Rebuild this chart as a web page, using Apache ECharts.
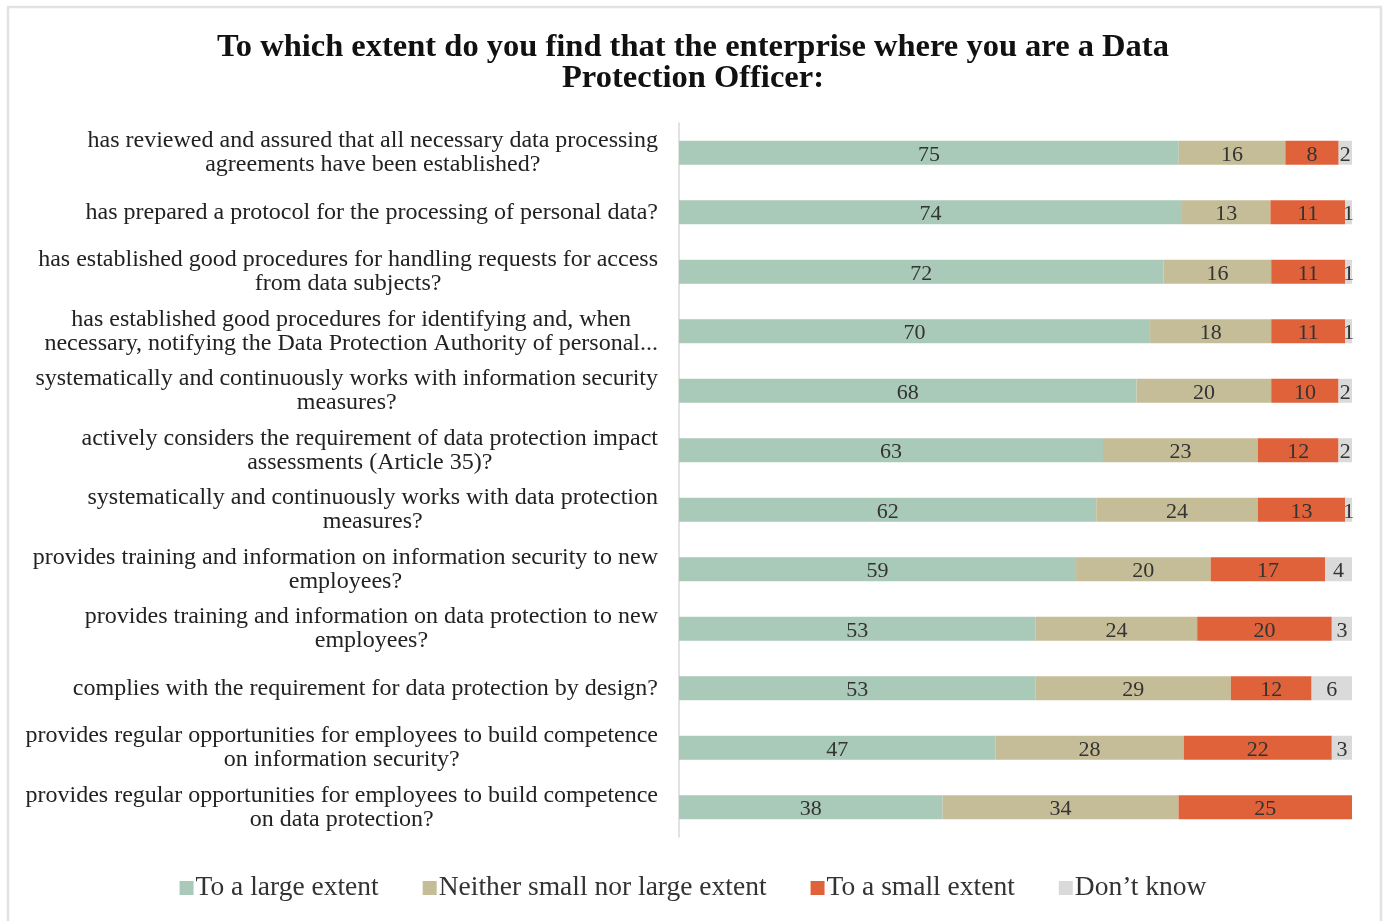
<!DOCTYPE html>
<html>
<head>
<meta charset="utf-8">
<title>Data Protection Officer survey</title>
<script src="https://cdn.jsdelivr.net/npm/echarts@6/dist/echarts.min.js"></script>
<style>
  html, body { margin: 0; padding: 0; background: #fff; }
  #main { width: 1386px; height: 921px; }
</style>
</head>
<body>
<div id="main"></div>
<script>
// questions, top to bottom
var categories = [
	"has reviewed and assured that all necessary data processing\nagreements have been established?",
	"has prepared a protocol for the processing of personal data?",
	"has established good procedures for handling requests for access\nfrom data subjects?",
	"has established good procedures for identifying and, when\nnecessary, notifying the Data Protection Authority of personal...",
	"systematically and continuously works with information security\nmeasures?",
	"actively considers the requirement of data protection impact\nassessments (Article 35)?",
	"systematically and continuously works with data protection\nmeasures?",
	"provides training and information on information security to new\nemployees?",
	"provides training and information on data protection to new\nemployees?",
	"complies with the requirement for data protection by design?",
	"provides regular opportunities for employees to build competence\non information security?",
	"provides regular opportunities for employees to build competence\non data protection?"
];
var seriesNames = ["To a large extent", "Neither small nor large extent", "To a small extent", "Don\u2019t know"];
var largeExtent = [75, 74, 72, 70, 68, 63, 62, 59, 53, 53, 47, 38];
var neitherExtent = [16, 13, 16, 18, 20, 23, 24, 20, 24, 29, 28, 34];
var smallExtent = [8, 11, 11, 11, 10, 12, 13, 17, 20, 12, 22, 25];
var dontKnow = [2, 1, 1, 1, 2, 2, 1, 4, 3, 6, 3, 0];
var colors = ["#A9C9B9", "#C5BD97", "#DF623B", "#DADADA"];

var FONT = "Liberation Serif";
var allSeries = [largeExtent, neitherExtent, smallExtent, dontKnow];

// 100% stacked: each row is scaled to its own total, label keeps the raw number
var rowTotal = categories.map(function(c, i){
	var t = 0;
	for (var s = 0; s < allSeries.length; s++) t += allSeries[s][i];
	return t;
});

var series = allSeries.map(function(vals, s){
	return {
		name: seriesNames[s],
		type: "bar",
		stack: "total",
		barWidth: 24,
		itemStyle: { color: colors[s] },
		label: {
			show: true,
			position: "inside",
			offset: [0, 2],
			color: "#333",
			fontFamily: FONT,
			fontSize: 22,
			formatter: function(p){ return p.data.raw ? p.data.raw : ""; }
		},
		emphasis: { disabled: true },
		data: vals.map(function(v, i){
			return { value: v / rowTotal[i] * 100, raw: v };
		})
	};
});

var chart = echarts.init(document.getElementById("main"));
chart.setOption({
	animation: false,
	backgroundColor: "#fff",
	graphic: [{
		type: "rect",
		shape: { x: 8, y: 7, width: 1373, height: 930 },
		style: { fill: "none", stroke: "#E2E2E2", lineWidth: 2.5 },
		silent: true
	}],
	title: {
		text: "To which extent do you find that the enterprise where you are a Data\nProtection Officer:",
		left: "center",
		top: 27,
		textStyle: {
			fontFamily: FONT,
			fontWeight: "bold",
			fontSize: 32.5,
			lineHeight: 31,
			color: "#111"
		}
	},
	legend: {
		bottom: 14,
		left: "center",
		itemWidth: 14,
		itemHeight: 14,
		itemGap: 44,
		icon: "rect",
		textStyle: { fontFamily: FONT, fontSize: 27.5, color: "#333", padding: [0, 0, 0, -3] },
		data: seriesNames
	},
	grid: { left: 679, right: 34, top: 123, bottom: 84, containLabel: false },
	xAxis: {
		type: "value",
		min: 0,
		max: 100,
		show: false
	},
	yAxis: {
		type: "category",
		inverse: true,
		data: categories,
		axisLine: { show: true, lineStyle: { color: "#D9D9D9", width: 1.5 } },
		axisTick: { show: false },
		axisLabel: {
			margin: 21,
			align: "right",
			formatter: function(v){
				return v.split("\n").map(function(l){ return "{c|" + l + "}"; }).join("\n");
			},
			rich: {
				c: { align: "center", fontFamily: FONT, fontSize: 24, lineHeight: 24, color: "#222" }
			}
		}
	},
	series: series
});
</script>
</body>
</html>
